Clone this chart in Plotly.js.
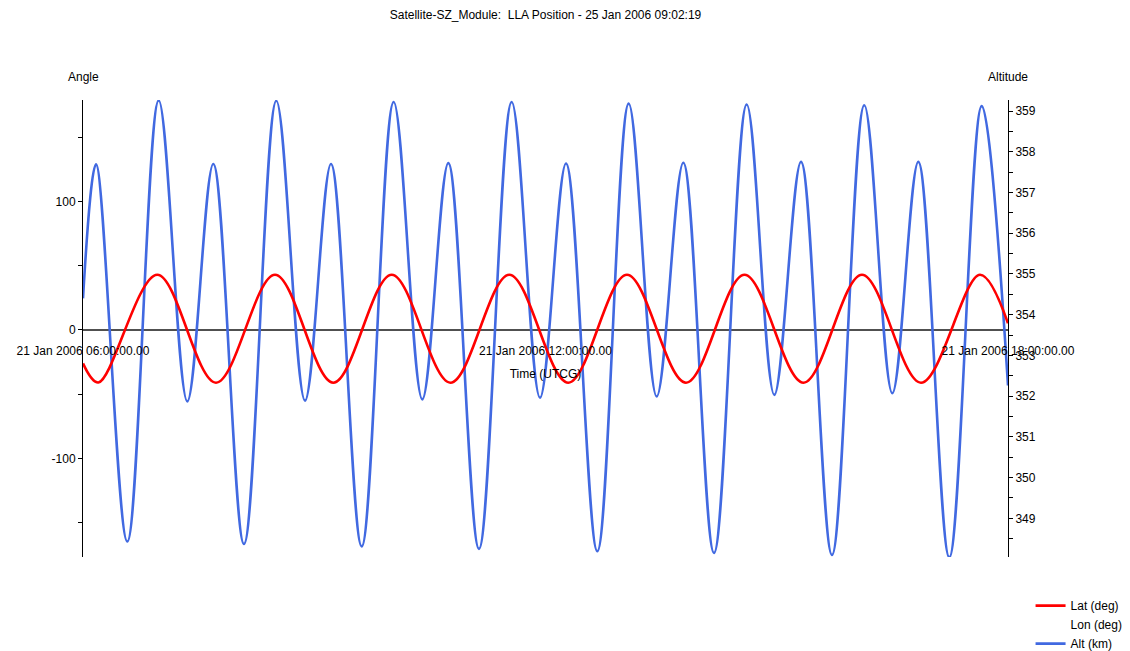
<!DOCTYPE html>
<html>
<head>
<meta charset="utf-8">
<script src="https://cdn.plot.ly/plotly-3.0.1.min.js"></script>
<style>
  html, body { margin: 0; padding: 0; background: #ffffff; }
  #chart { width: 1130px; height: 651px; }
</style>
</head>
<body>
<div id="chart"></div>
<script>
// Latitude (deg): turning points of the ground track over the 12 h window
const latTimes = [
  '2006-01-21 06:00:00', '2006-01-21 06:11:55', '2006-01-21 06:57:50', '2006-01-21 07:43:31',
  '2006-01-21 08:29:27', '2006-01-21 09:14:50', '2006-01-21 10:00:17', '2006-01-21 10:46:03',
  '2006-01-21 11:31:49', '2006-01-21 12:17:45', '2006-01-21 13:03:26', '2006-01-21 13:49:22',
  '2006-01-21 14:34:54', '2006-01-21 15:20:49', '2006-01-21 16:06:21', '2006-01-21 16:52:17',
  '2006-01-21 17:38:12', '2006-01-21 18:00:00'
];
const latDeg = [
  -26, -40.8, 43.0, -41.0,
  43.0, -41.0, 43.0, -41.0,
  43.0, -41.0, 43.0, -41.0,
  43.0, -41.0, 43.0, -41.0,
  43.0, 5.2
];

// Longitude (deg): no samples drawn, only its legend entry
const lonTimes = ['2006-01-21 06:00:00'];
const lonDeg = [null];

// Altitude (km): turning points
const altTimes = [
  '2006-01-21 06:00:00', '2006-01-21 06:10:07', '2006-01-21 06:34:29', '2006-01-21 06:58:55',
  '2006-01-21 07:21:11', '2006-01-21 07:41:25', '2006-01-21 08:05:19', '2006-01-21 08:30:28',
  '2006-01-21 08:52:48', '2006-01-21 09:13:02', '2006-01-21 09:36:56', '2006-01-21 10:01:50',
  '2006-01-21 10:24:06', '2006-01-21 10:44:21', '2006-01-21 11:08:14', '2006-01-21 11:33:41',
  '2006-01-21 11:55:43', '2006-01-21 12:15:58', '2006-01-21 12:40:20', '2006-01-21 13:04:46',
  '2006-01-21 13:26:33', '2006-01-21 13:47:16', '2006-01-21 14:11:10', '2006-01-21 14:36:37',
  '2006-01-21 14:58:06', '2006-01-21 15:18:53', '2006-01-21 15:43:00', '2006-01-21 16:08:09',
  '2006-01-21 16:29:57', '2006-01-21 16:50:11', '2006-01-21 17:14:19', '2006-01-21 17:39:32',
  '2006-01-21 18:00:00'
];
const altKm = [
  354.4, 357.69, 348.43, 359.26,
  351.87, 357.70, 348.37, 359.25,
  351.89, 357.70, 348.31, 359.22,
  351.92, 357.72, 348.25, 359.22,
  351.96, 357.71, 348.19, 359.18,
  351.99, 357.73, 348.15, 359.16,
  352.03, 357.75, 348.10, 359.14,
  352.07, 357.75, 348.04, 359.12,
  352.26
];

// Axis ticks and labels
const timeRange = ['2006-01-21 06:00:00', '2006-01-21 18:00:00'];
const timeTicks = ['2006-01-21 06:00:00', '2006-01-21 12:00:00', '2006-01-21 18:00:00'];
const timeLabels = ['21 Jan 2006 06:00:00.00', '21 Jan 2006 12:00:00.00', '21 Jan 2006 18:00:00.00'];

const angleRange = [-176.6, 178.9];
const angleTicks = [-150, -100, -50, 0, 50, 100, 150];
const angleLabels = ['', '-100', '', '0', '', '100', ''];

const altRange = [348.05, 359.27];
const altTicks = [348.5, 349, 349.5, 350, 350.5, 351, 351.5, 352, 352.5, 353, 353.5,
                  354, 354.5, 355, 355.5, 356, 356.5, 357, 357.5, 358, 358.5, 359];
const altLabels = ['', '349', '', '350', '', '351', '', '352', '', '353', '',
                   '354', '', '355', '', '356', '', '357', '', '358', '', '359'];

const FONT = 'Arial, "Liberation Sans", sans-serif';

const traces = [
  {
    name: 'Alt (km)', x: altTimes, y: altKm, yaxis: 'y',
    type: 'scatter', mode: 'lines',
    line: { color: '#4169E1', width: 2.6, shape: 'spline', smoothing: 1 },
    legendrank: 3, hoverinfo: 'skip'
  },
  {
    name: 'Lon (deg)', x: lonTimes, y: lonDeg, yaxis: 'y2',
    type: 'scatter', mode: 'lines',
    line: { color: 'rgba(255,255,255,0)', width: 2 },
    legendrank: 2, hoverinfo: 'skip', showlegend: true
  },
  {
    name: 'Lat (deg)', x: latTimes, y: latDeg, yaxis: 'y2',
    type: 'scatter', mode: 'lines',
    line: { color: '#FF0000', width: 2.6, shape: 'spline', smoothing: 1 },
    legendrank: 1, hoverinfo: 'skip'
  }
];

// the time axis sits on the zero of the angle scale
const zeroPos = (0 - angleRange[0]) / (angleRange[1] - angleRange[0]);

const tickCommon = {
  showgrid: false, zeroline: false, ticklen: 4, tickwidth: 1, tickcolor: '#000000',
  tickfont: { family: FONT, size: 12, color: '#000000' }
};

const layout = {
  width: 1130, height: 651,
  paper_bgcolor: '#ffffff', plot_bgcolor: '#ffffff',
  margin: { l: 83, r: 122, t: 100, b: 94 },
  font: { family: FONT, size: 12, color: '#000000' },
  title: {
    text: 'Satellite-SZ_Module:\u00a0 LLA Position - 25 Jan 2006 09:02:19',
    font: { family: FONT, size: 12, color: '#000000' },
    x: 0.5, xref: 'paper', xanchor: 'center',
    y: 1 - 15 / 651, yref: 'container', yanchor: 'middle'
  },
  showlegend: true,
  legend: {
    xref: 'container', yref: 'container',
    x: 0.912, xanchor: 'left', y: 0.092, yanchor: 'top',
    traceorder: 'normal', bgcolor: 'rgba(0,0,0,0)',
    font: { family: FONT, size: 12, color: '#000000' },
    itemwidth: 30
  },
  xaxis: {
    type: 'date', range: timeRange,
    anchor: 'free', position: zeroPos,
    showgrid: false, zeroline: false, showline: false,
    ticks: 'outside', ticklen: 10, tickcolor: 'rgba(0,0,0,0)',
    tickmode: 'array', tickvals: timeTicks, ticktext: timeLabels,
    tickfont: { family: FONT, size: 12, color: '#000000' },
    title: { text: 'Time (UTCG)', font: { family: FONT, size: 12, color: '#000000' }, standoff: 12 }
  },
  // altitude scale on the right
  yaxis: Object.assign({}, tickCommon, {
    range: altRange, side: 'right', anchor: 'x',
    showline: true, linecolor: '#000000', linewidth: 1,
    ticks: 'outside', tickmode: 'array', tickvals: altTicks, ticktext: altLabels
  }),
  // angle scale on the left
  yaxis2: Object.assign({}, tickCommon, {
    range: angleRange, side: 'left', anchor: 'x', overlaying: 'y',
    showline: true, linecolor: '#000000', linewidth: 1,
    zeroline: true, zerolinecolor: '#505050', zerolinewidth: 1.5,
    ticks: 'outside', tickmode: 'array', tickvals: angleTicks, ticktext: angleLabels
  }),
  // inner halves of the tick marks so they cross the axis lines
  yaxis3: Object.assign({}, tickCommon, {
    range: angleRange, side: 'left', anchor: 'x', overlaying: 'y',
    showline: false, ticks: 'inside', ticklen: 3, showticklabels: false,
    tickmode: 'array', tickvals: angleTicks
  }),
  yaxis4: Object.assign({}, tickCommon, {
    range: altRange, side: 'right', anchor: 'x', overlaying: 'y',
    showline: false, ticks: 'inside', ticklen: 3, showticklabels: false,
    tickmode: 'array', tickvals: altTicks
  }),
  annotations: [
    { text: 'Angle', xref: 'paper', yref: 'paper', x: 0, y: 1 + 23 / 457,
      xanchor: 'center', yanchor: 'middle', showarrow: false,
      font: { family: FONT, size: 12, color: '#000000' } },
    { text: 'Altitude', xref: 'paper', yref: 'paper', x: 1, y: 1 + 23 / 457,
      xanchor: 'center', yanchor: 'middle', showarrow: false,
      font: { family: FONT, size: 12, color: '#000000' } }
  ]
};

Plotly.newPlot('chart', traces, layout, { staticPlot: true, displayModeBar: false });
</script>
</body>
</html>
